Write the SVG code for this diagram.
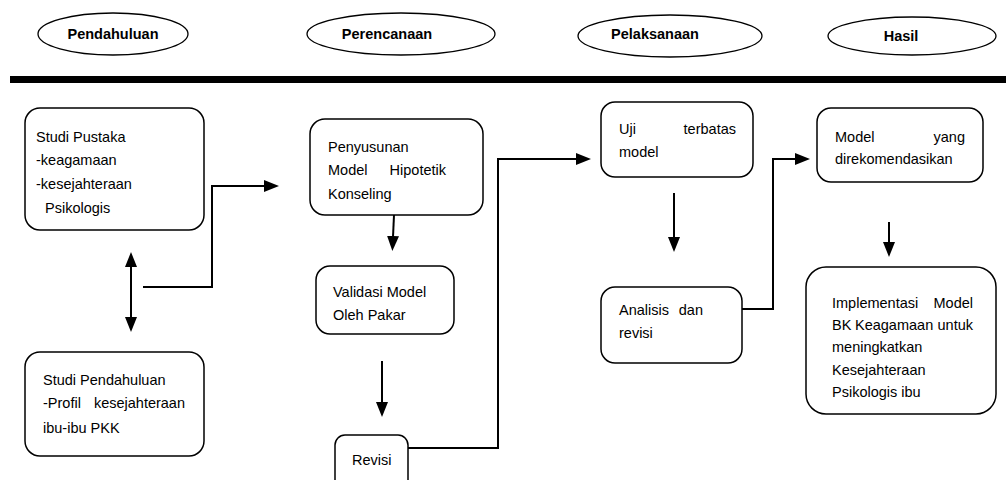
<svg xmlns="http://www.w3.org/2000/svg" width="1006" height="480" viewBox="0 0 1006 480">
<style>
  .box{fill:#fff;stroke:#000;stroke-width:1.5}
  .ell{fill:#fff;stroke:#000;stroke-width:1.3}
  .t{font-family:"Liberation Sans",Arial,sans-serif;font-size:14.5px;fill:#000}
  .h{font-family:"Liberation Sans",Arial,sans-serif;font-size:14.5px;font-weight:bold;fill:#000;text-anchor:middle}
  .e{text-anchor:end}
  .c{fill:none;stroke:#000;stroke-width:2}
</style>
<defs>
  <marker id="arr" markerUnits="userSpaceOnUse" markerWidth="16" markerHeight="12" refX="1" refY="6" orient="auto-start-reverse">
    <path d="M0,0 L15,6 L0,12 z" fill="#000"/>
  </marker>
</defs>
<rect width="1006" height="480" fill="#fff"/>

<g id="phase-pendahuluan">
  <ellipse class="ell" cx="113" cy="34" rx="75" ry="21"/>
  <text class="h" x="113" y="39">Pendahuluan</text>
</g>
<g id="phase-perencanaan">
  <ellipse class="ell" cx="401" cy="34" rx="94" ry="21"/>
  <text class="h" x="387" y="39">Perencanaan</text>
</g>
<g id="phase-pelaksanaan">
  <ellipse class="ell" cx="670" cy="36" rx="92" ry="21"/>
  <text class="h" x="655" y="39">Pelaksanaan</text>
</g>
<g id="phase-hasil">
  <ellipse class="ell" cx="912" cy="36" rx="84" ry="19"/>
  <text class="h" x="901" y="41">Hasil</text>
</g>

<rect id="divider" x="10" y="76" width="996" height="7" fill="#000"/>

<g id="connectors">
  <path class="c" d="M131,266 L131,318" marker-start="url(#arr)" marker-end="url(#arr)"/>
  <path class="c" d="M143,287 H212 V186 H265" marker-end="url(#arr)"/>
  <path class="c" d="M395,193 L393,237" marker-end="url(#arr)"/>
  <path class="c" d="M382,361 V403" marker-end="url(#arr)"/>
  <path class="c" d="M408,448 H498 V159 H577" marker-end="url(#arr)"/>
  <path class="c" d="M674,193 V238" marker-end="url(#arr)"/>
  <path class="c" d="M742,309 H773 V159 H796" marker-end="url(#arr)"/>
  <path class="c" d="M889,222 V243" marker-end="url(#arr)"/>
</g>

<g id="studi-pustaka">
  <rect class="box" x="25" y="108" width="179" height="122" rx="15"/>
  <text class="t" x="36" y="142">Studi Pustaka</text>
  <text class="t" x="36" y="165">-keagamaan</text>
  <text class="t" x="36" y="189">-kesejahteraan</text>
  <text class="t" x="45" y="213">Psikologis</text>
</g>
<g id="studi-pendahuluan">
  <rect class="box" x="25" y="352" width="179" height="104" rx="15"/>
  <text class="t" x="43" y="385">Studi Pendahuluan</text>
  <text class="t" x="43" y="408">-Profil</text>
  <text class="t e" x="185" y="408">kesejahteraan</text>
  <text class="t" x="43" y="433">ibu-ibu PKK</text>
</g>
<g id="penyusunan">
  <rect class="box" x="310" y="119" width="173" height="96" rx="15"/>
  <text class="t" x="328" y="152">Penyusunan</text>
  <text class="t" x="328" y="175">Model</text>
  <text class="t e" x="446" y="175">Hipotetik</text>
  <text class="t" x="328" y="199">Konseling</text>
</g>
<g id="validasi">
  <rect class="box" x="316" y="266" width="138" height="68" rx="14"/>
  <text class="t" x="333" y="297">Validasi Model</text>
  <text class="t" x="333" y="320">Oleh Pakar</text>
</g>
<g id="revisi">
  <rect class="box" x="335" y="435" width="73" height="55" rx="10"/>
  <text class="t" x="352" y="465">Revisi</text>
</g>
<g id="uji-terbatas">
  <rect class="box" x="601" y="102" width="152" height="75" rx="14"/>
  <text class="t" x="619" y="134">Uji</text>
  <text class="t e" x="736" y="134">terbatas</text>
  <text class="t" x="619" y="157">model</text>
</g>
<g id="analisis">
  <rect class="box" x="601" y="287" width="141" height="76" rx="14"/>
  <text class="t" x="619" y="315">Analisis</text>
  <text class="t e" x="703" y="315">dan</text>
  <text class="t" x="619" y="338">revisi</text>
</g>
<g id="model-rekomendasi">
  <rect class="box" x="817" y="108" width="166" height="74" rx="14"/>
  <text class="t" x="835" y="142">Model</text>
  <text class="t e" x="965" y="142">yang</text>
  <text class="t" x="835" y="164">direkomendasikan</text>
</g>
<g id="implementasi">
  <rect class="box" x="806" y="267" width="190" height="147" rx="20"/>
  <text class="t" x="832" y="308">Implementasi</text>
  <text class="t e" x="973" y="308">Model</text>
  <text class="t" x="832" y="330">BK</text>
  <text class="t" x="855" y="330">Keagamaan</text>
  <text class="t e" x="973" y="330">untuk</text>
  <text class="t" x="832" y="352">meningkatkan</text>
  <text class="t" x="832" y="375">Kesejahteraan</text>
  <text class="t" x="832" y="397">Psikologis ibu</text>
</g>
</svg>
